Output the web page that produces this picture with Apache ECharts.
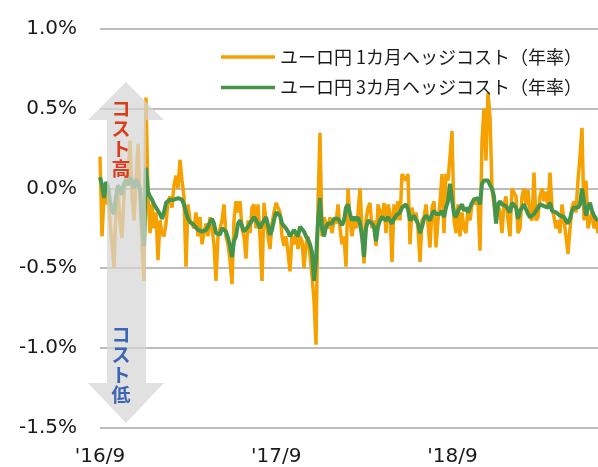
<!DOCTYPE html>
<html>
<head>
<meta charset="utf-8">
<script src="https://cdn.jsdelivr.net/npm/echarts@6/dist/echarts.min.js"></script>
<style>
html,body{margin:0;padding:0;background:#fff;}
#chart{width:598px;height:467px;}
</style>
</head>
<body>
<div id="chart"></div>
<script>
// sampled roughly every 4.14 days starting 2016-09-01
const seriesNames = ['ユーロ円 1カ月ヘッジコスト（年率）', 'ユーロ円 3カ月ヘッジコスト（年率）'];
const xTickLabels = ["'16/9", "'17/9", "'18/9"];
const stepDays = 4.143;

const hedge1m = [
  0.20, -0.30, -0.05, -0.10, -0.02, -0.20, -0.35, -0.50, -0.12, 0.00,
  -0.22, -0.31, -0.05, 0.10, 0.05, 0.30, -0.05, -0.20, 0.05, 0.28,
  -0.05, -0.35, -0.58, 0.57, -0.05,
  -0.28, -0.10, -0.25, -0.15, -0.45, -0.20, -0.28, -0.30, -0.22, -0.08,
  -0.05, -0.12, 0.02, 0.08, 0.00, 0.18, 0.05, -0.05, -0.49, -0.10,
  -0.20, -0.22, -0.25, -0.15, -0.30,
  -0.18, -0.35, -0.28, -0.22, -0.30, -0.18, -0.25, -0.35, -0.58, -0.30,
  -0.25, -0.20, -0.10, -0.30, -0.35, -0.45, -0.60, -0.20, -0.08, -0.15,
  -0.08, -0.25, -0.30, -0.44, -0.20, -0.28, -0.12, -0.10, -0.25, -0.10,
  -0.30, -0.58, -0.09, -0.20, -0.30, -0.38, -0.22, -0.15, -0.09, -0.09,
  -0.15, -0.30, -0.36, -0.30, -0.40, -0.52, -0.30, -0.35, -0.28, -0.38,
  -0.30, -0.33, -0.50, -0.35, -0.30, -0.42, -0.55, -0.70, -0.98, -0.10,
  0.35, -0.30, -0.18, -0.22, -0.25, -0.18, -0.28, -0.20, -0.22, -0.10,
  -0.25, -0.35, -0.30, -0.49, 0.00, -0.20, -0.30, -0.20, -0.25, -0.15,
  0.00, -0.25, -0.47, -0.20, -0.12, -0.09, -0.25, -0.20, -0.36, -0.10,
  -0.09, -0.20, -0.09, -0.28, -0.10, -0.15, -0.46, -0.10, -0.20, -0.08,
  -0.20, 0.09, 0.09, 0.05, 0.09, -0.35, -0.12, -0.20, -0.15, -0.25,
  -0.46, -0.20, -0.18, -0.10, -0.22, -0.37, -0.12, -0.08, -0.37, -0.20,
  -0.09, 0.09, -0.28, 0.09, 0.05, 0.20, 0.36, -0.20, -0.28, -0.10,
  -0.30, -0.15, -0.25, -0.28, -0.12, -0.20, -0.10, -0.06, -0.10, -0.08,
  -0.39, 0.30, 0.50, 0.175, 0.60, 0.45, 0.00, -0.10, -0.20, -0.10,
  -0.15, -0.28, -0.10, -0.05, -0.20, -0.30, 0.00, 0.00, -0.05, -0.28,
  -0.25, -0.05, 0.00, -0.10, -0.01, -0.18, -0.20, 0.10, -0.20, -0.18,
  -0.05, 0.00, -0.08, -0.02, -0.12, 0.10, -0.12, -0.18, -0.25, -0.20,
  -0.28, -0.10, -0.20, -0.30, -0.41, -0.25, -0.12, -0.08, -0.15, 0.05,
  0.20, 0.38, -0.20, 0.05, -0.25, -0.20, -0.15, -0.25, -0.20, -0.28
];

const hedge3m = [
  0.07, 0.02, -0.06, 0.04, 0.01, -0.08, -0.14, -0.16, -0.05, 0.02,
  0.00, -0.04, 0.03, 0.05, 0.02, 0.07, 0.04, 0.00, 0.06, 0.07,
  0.00, -0.20, -0.36, 0.13, -0.02,
  -0.05, -0.07, -0.10, -0.10, -0.14, -0.16, -0.19, -0.15, -0.09, -0.08,
  -0.07, -0.08, -0.07, -0.07, -0.06, -0.06, -0.07, -0.10, -0.15, -0.19,
  -0.21, -0.22, -0.23, -0.24, -0.26,
  -0.25, -0.27, -0.28, -0.26, -0.24, -0.21, -0.19, -0.22, -0.28, -0.27,
  -0.29, -0.25, -0.24, -0.27, -0.31, -0.36, -0.43, -0.33, -0.30, -0.22,
  -0.20, -0.21, -0.27, -0.28, -0.24, -0.22, -0.20, -0.18, -0.19, -0.22,
  -0.25, -0.22, -0.20, -0.18, -0.23, -0.29, -0.26, -0.20, -0.15, -0.14,
  -0.17, -0.22, -0.23, -0.25, -0.27, -0.30, -0.29, -0.26, -0.28, -0.30,
  -0.24, -0.25, -0.27, -0.30, -0.32, -0.35, -0.40, -0.58, -0.45, -0.20,
  -0.06, -0.25, -0.30, -0.24, -0.22, -0.21, -0.22, -0.19, -0.20, -0.19,
  -0.21, -0.23, -0.20, -0.12, -0.10, -0.16, -0.20, -0.18, -0.20, -0.18,
  -0.22, -0.30, -0.43, -0.25, -0.20, -0.19, -0.22, -0.24, -0.33, -0.24,
  -0.20, -0.18, -0.19, -0.20, -0.18, -0.20, -0.22, -0.19, -0.17, -0.16,
  -0.15, -0.12, -0.11, -0.10, -0.13, -0.20, -0.20, -0.17, -0.18, -0.22,
  -0.28, -0.24, -0.19, -0.17, -0.18, -0.20, -0.16, -0.14, -0.16, -0.15,
  -0.16, -0.14, -0.18, -0.12, -0.08, 0.03, 0.04, -0.16, -0.18, -0.14,
  -0.12, -0.10, -0.14, -0.12, -0.15, -0.14, -0.09, -0.07, -0.06, -0.06,
  -0.10, 0.03, 0.05, 0.05, 0.05, 0.02, 0.00, -0.05, -0.22, -0.10,
  -0.08, -0.10, -0.09, -0.11, -0.12, -0.15, -0.09, -0.08, -0.12, -0.19,
  -0.14, -0.12, -0.10, -0.13, -0.16, -0.18, -0.18, -0.16, -0.17, -0.12,
  -0.10, -0.10, -0.11, -0.10, -0.12, -0.09, -0.14, -0.13, -0.15, -0.14,
  -0.17, -0.16, -0.18, -0.20, -0.22, -0.19, -0.14, -0.12, -0.13, -0.12,
  -0.10, 0.00, -0.08, -0.17, -0.12, -0.09, -0.14, -0.17, -0.19, -0.20
];

const toPairs = arr => arr.map((v, i) => [i * stepDays, v]);
const maxDay = (hedge1m.length - 1) * stepDays;

const chart = echarts.init(document.getElementById('chart'), null, {renderer: 'canvas'});
const axisFont = {fontFamily: 'DejaVu Sans', fontSize: 20, color: '#1a1a1a'};

chart.setOption({
  animation: false,
  backgroundColor: '#fff',
  grid: {left: 100, right: 0, top: 29, bottom: 39.3, containLabel: false},
  legend: {
    orient: 'vertical', right: 11, top: 42,
    icon: 'rect', itemWidth: 54, itemHeight: 3.5, itemGap: 10.6,
    data: seriesNames,
    textStyle: {fontFamily: '"Noto Sans CJK JP", sans-serif', fontSize: 18, color: '#1a1a1a', lineHeight: 20}
  },
  xAxis: {
    type: 'value', min: 0, max: maxDay, interval: 365,
    axisLine: {show: false}, axisTick: {show: false}, splitLine: {show: false},
    axisLabel: Object.assign({}, axisFont, {
      margin: 19, showMaxLabel: false,
      formatter: v => {
        const i = Math.round(v / 365);
        return (Math.abs(v - i * 365) < 0.5 && i < xTickLabels.length) ? xTickLabels[i] : '';
      }
    })
  },
  yAxis: {
    type: 'value', min: -1.5, max: 1.0, interval: 0.5,
    axisLine: {show: false}, axisTick: {show: false},
    splitLine: {lineStyle: {color: '#a6a6a6', width: 1.5}},
    axisLabel: Object.assign({}, axisFont, {margin: 23, formatter: v => v.toFixed(1) + '%'})
  },
  series: [
    {name: seriesNames[0], type: 'line', data: toPairs(hedge1m), showSymbol: false,
     color: '#f5a100', lineStyle: {color: '#f5a100', width: 3.5}, z: 2},
    {name: seriesNames[1], type: 'line', data: toPairs(hedge3m), showSymbol: false,
     color: '#46934a', lineStyle: {color: '#46934a', width: 4}, z: 3}
  ],
  graphic: [
    {type: 'polygon', z: 100, silent: true,
     shape: {points: [[126, 82], [164, 120], [146, 120], [146, 383], [164, 383], [126, 423],
                      [88, 383], [107, 383], [107, 120], [88, 120]]},
     style: {fill: 'rgba(214,214,214,0.72)'}},
    {type: 'text', z: 101, silent: true, x: 121, y: 99,
     style: {text: 'コ\nス\nト\n高', fill: '#dc3c1e', fontSize: 19, fontWeight: 'bold',
             fontFamily: '"Noto Sans CJK JP"', lineHeight: 20, align: 'center', verticalAlign: 'top'}},
    {type: 'text', z: 101, silent: true, x: 121, y: 325,
     style: {text: 'コ\nス\nト\n低', fill: '#3c64b4', fontSize: 19, fontWeight: 'bold',
             fontFamily: '"Noto Sans CJK JP"', lineHeight: 20, align: 'center', verticalAlign: 'top'}}
  ]
});
</script>
</body>
</html>
